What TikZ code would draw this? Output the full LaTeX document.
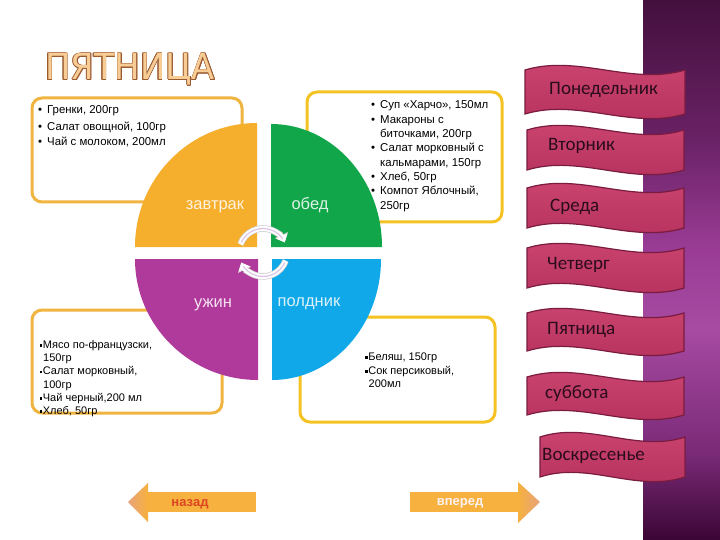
\documentclass[tikz,border=0pt]{standalone}
\usepackage{fontspec}
\setmainfont{Liberation Sans}
\newfontfamily\banfont{Carlito}
\newfontfamily\titfont{DejaVu Sans}
\usetikzlibrary{arrows.meta}
\definecolor{pieorange}{HTML}{F6AE2D}
\definecolor{piegreen}{HTML}{12A64B}
\definecolor{piepurple}{HTML}{B03A9B}
\definecolor{pieblue}{HTML}{10A8E8}
\definecolor{boxorange}{HTML}{F0B440}
\definecolor{boxgold}{HTML}{F4C323}
\definecolor{bantop}{HTML}{CC4671}
\definecolor{banbot}{HTML}{B5305C}
\definecolor{bandark}{HTML}{7A1B40}
\definecolor{bantxt}{HTML}{2B0C1C}
\definecolor{pa}{HTML}{3A0634}
\definecolor{pb}{HTML}{7A2A77}
\definecolor{pc}{HTML}{A64AA2}
\definecolor{pd}{HTML}{9A3C95}
\definecolor{pf}{HTML}{6A2266}
\definecolor{pe}{HTML}{43103D}
\definecolor{titfill}{HTML}{F8CC95}
\definecolor{titstroke}{HTML}{9A5A30}
\definecolor{arrorange}{HTML}{F6B13E}
\definecolor{arrpink}{HTML}{E8A37C}
\definecolor{cycline}{HTML}{D8BFE4}
\pgfdeclareverticalshading{panelshade}{100bp}{color(0bp)=(pa); color(25bp)=(pa); color(33bp)=(pb); color(44.5bp)=(pc); color(52bp)=(pd); color(62bp)=(pf); color(75bp)=(pe); color(100bp)=(pe)}
\newcommand{\sqb}{\rule[0.25ex]{2.6pt}{2.6pt}\hspace{0.6pt}}
\newcommand{\bul}{\makebox[9pt][l]{•}}
\tikzset{
  boxA/.style={draw=boxorange, line width=3pt, rounded corners=10pt},
  boxB/.style={draw=boxgold, line width=3pt, rounded corners=10pt},
  menu/.style={font=\fontsize{11.4}{13}\selectfont, anchor=base west, inner sep=0pt, text=black},
  menus/.style={font=\fontsize{11}{12}\selectfont, anchor=base west, inner sep=0pt, text=black},
  pielab/.style={font=\fontsize{16.5}{18}\selectfont, text=white, text opacity=0.85, inner sep=0pt, anchor=base},
  banner/.style={draw=bandark, line width=1.2pt, top color=bantop, bottom color=banbot},
  bantext/.style={font=\banfont\fontsize{19}{20}\selectfont, text=bantxt, inner sep=0pt, anchor=west},
  titlestroke/.style={font=\titfont\fontsize{36}{40}\selectfont, text=titstroke, inner sep=0pt, anchor=base west, xscale=0.94},
  titlefill/.style={font=\titfont\fontsize{36}{40}\selectfont, text=titfill, inner sep=0pt, anchor=base west, xscale=0.94},
  cycout/.style={draw=black!18, line width=6.6pt, -{Triangle[width=14pt,length=8pt]}},
  cycin/.style={draw=white, line width=5pt, -{Triangle[width=12pt,length=7pt]}},
  cycthin/.style={draw=cycline, line width=1.1pt},
  navtext/.style={font=\bfseries\fontsize{13}{15}\selectfont, inner sep=0pt, anchor=base}
}
\begin{document}
\begin{tikzpicture}[x=1pt,y=-1pt]
\useasboundingbox (0,0) rectangle (720,540);
\fill[white] (0,0) rectangle (720,540);
% right panel
\shade[shading=panelshade] (643,0) rectangle (720,540);

% title
\foreach \a [count=\k] in {0,30,...,330}
  \node[titlestroke] (tc\k) at ([shift={(\a:0.65)}]45,80) {ПЯТНИЦА};
\node[titlefill] (title) at (45,80) {ПЯТНИЦА};

% text boxes (behind pie)
\draw[boxA] (32,98) rectangle (242,202);
\draw[boxB] (307,92) rectangle (502,222);
\draw[boxA] (32,310) rectangle (222,413);
\draw[boxB] (300,317) rectangle (495,422);

% pie quadrants
\fill[pieorange] (257,247) -- (135,247) .. controls (135,178.5) and (189.6,123) .. (257,123) -- cycle;
\fill[piegreen] (271,247) -- (271,124) .. controls (332.3,124) and (382,179.1) .. (382,247) -- cycle;
\fill[piepurple] (258,259) -- (135,259) .. controls (135,325.8) and (190.1,380) .. (258,380) -- cycle;
\fill[pieblue] (272,259) -- (381,259) .. controls (381,325.8) and (332.2,380) .. (272,380) -- cycle;

\node[pielab] (zavtrak) at (215,210) {завтрак};
\node[pielab] (obed) at (310,210) {обед};
\node[pielab] (uzhin) at (213,307.5) {ужин};
\node[pielab] (poldnik) at (309,306.5) {полдник};

% cycle arrows
\draw[cycout] ([shift={(200:24)}]263,252.5) arc[start angle=200,end angle=335,radius=24];
\draw[cycout] ([shift={(20:24)}]263,252.5) arc[start angle=20,end angle=155,radius=24];
\draw[cycin] ([shift={(200:24)}]263,252.5) arc[start angle=200,end angle=335,radius=24];
\draw[cycin] ([shift={(20:24)}]263,252.5) arc[start angle=20,end angle=155,radius=24];
\draw[cycthin] ([shift={(205:24)}]263,252.5) arc[start angle=205,end angle=325,radius=24];
\draw[cycthin] ([shift={(25:24)}]263,252.5) arc[start angle=25,end angle=145,radius=24];

% top-left menu
\node[menu] (tl1) at (38,114) {\bul Гренки, 200гр};
\node[menu] (tl2) at (38,130.5) {\bul Салат овощной, 100гр};
\node[menu] (tl3) at (38,146) {\bul Чай с молоком, 200мл};

% top-right menu
\node[menu] (tr1) at (371,109) {\bul Суп «Харчо», 150мл};
\node[menu] (tr2) at (371,123.3) {\bul Макароны с};
\node[menu] (tr3) at (380,137.6) {биточками, 200гр};
\node[menu] (tr4) at (371,151.9) {\bul Салат морковный с};
\node[menu] (tr5) at (380,166.2) {кальмарами, 150гр};
\node[menu] (tr6) at (371,180.5) {\bul Хлеб, 50гр};
\node[menu] (tr7) at (371,194.8) {\bul Компот Яблочный,};
\node[menu] (tr8) at (380,209.1) {250гр};

% bottom-left menu
\node[menus] (bl1) at (39.5,348.5) {\sqb Мясо по-французски,};
\node[menus] (bl2) at (43,361.7) {150гр};
\node[menus] (bl3) at (39.5,374.9) {\sqb Салат морковный,};
\node[menus] (bl4) at (43,388.1) {100гр};
\node[menus] (bl5) at (39.5,401.3) {\sqb Чай черный,200 мл};
\node[menus] (bl6) at (39.5,414.5) {\sqb Хлеб, 50гр};

% bottom-right menu
\node[menus] (br1) at (365,360.5) {\sqb Беляш, 150гр};
\node[menus] (br2) at (365,374) {\sqb Сок персиковый,};
\node[menus] (br3) at (368.5,387.5) {200мл};

% day banners
\foreach \n/\bx/\by/\bw/\bh/\tx/\ty/\lab in {
  mon/525/70/160/44/549/90/Понедельник,
  tue/527/130/157/40/548/146/Вторник,
  wed/527/188/157/40/550/207/Среда,
  thu/527/248/157/40/547/265/Четверг,
  fri/527/313/157/38/547/330/Пятница,
  sat/527/377/157/38/545/394/суббота,
  sun/540/437/145/40/542/456/Воскресенье}{
  \path[banner] (\bx,\by) .. controls ({\bx+\bw/3},{\by-16}) and ({\bx+2*\bw/3},{\by+16}) .. ({\bx+\bw},\by)
     -- ({\bx+\bw},{\by+\bh}) .. controls ({\bx+2*\bw/3},{\by+\bh+16}) and ({\bx+\bw/3},{\by+\bh-16}) .. (\bx,{\by+\bh}) -- cycle;
  \node[bantext] (\n) at (\tx,\ty) {\lab};
}

% navigation arrows
\fill[arrorange] (148,492) -- (256,492) -- (256,512) -- (148,512) -- cycle;
\shade[left color=arrpink, right color=arrorange] (128,502) -- (148,483) -- (148,522) -- cycle;
\node[navtext, text=red!45!brown] (back) at (190,506.5) {назад};

\fill[arrorange] (410,492) -- (518,492) -- (518,512) -- (410,512) -- cycle;
\shade[left color=arrorange, right color=arrpink] (518,482) -- (540,502) -- (518,523) -- cycle;
\node[navtext, text=white!80!pink] (fwd) at (460,505.5) {вперед};
\end{tikzpicture}
\end{document}
